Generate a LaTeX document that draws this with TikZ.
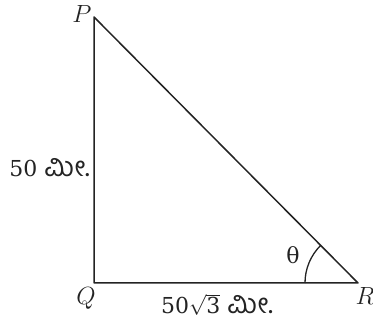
\documentclass[tikz,border=0pt]{standalone}
\usepackage{fontspec}
\usepackage{amsmath}
\usepackage{tikz}
\usetikzlibrary{positioning}
\newfontfamily\kanfont[Script=Kannada, Scale=1.25]{Hind Mysuru}
\newfontfamily\numfont{DejaVu Serif}
\definecolor{ink}{RGB}{35,35,35}
\begin{document}
\begin{tikzpicture}[
    x=1pt, y=-1pt,
    side/.style={draw=ink, line width=1.5pt, line cap=round, line join=round},
    vlabel/.style={font=\fontsize{24}{28}\selectfont, text=ink, inner sep=0pt, anchor=base},
    dlabel/.style={font=\fontsize{22}{26}\selectfont\numfont, text=ink, inner sep=0pt,
                   anchor=base, text depth=0pt}
  ]
    \useasboundingbox (0,0) rectangle (373,323);
    \coordinate (P) at (94,17);
    \coordinate (Q) at (94,283);
    \coordinate (R) at (358,283);

    \draw[side] (P) -- (Q) -- (R) -- cycle;
    \draw[draw=ink, line width=1.3pt] ([xshift=-53pt]R) arc[start angle=180, end angle=134.8, radius=53pt];

    \node[vlabel] (lp) at (82,23) {$P$};
    \node[vlabel] (lq) at (86,305) {$Q$};
    \node[vlabel] (lr) at (365,305) {$R$};
    \node[dlabel] (th) at (293,264) {θ};
    \node[dlabel, anchor=base east] (pq) at (90,177) {50 {\kanfont ಮೀ.}};
    \node[dlabel] (qr) at (217,314) {50$\sqrt{\text{3}}$ {\kanfont ಮೀ.}};
  \end{tikzpicture}
\end{document}
